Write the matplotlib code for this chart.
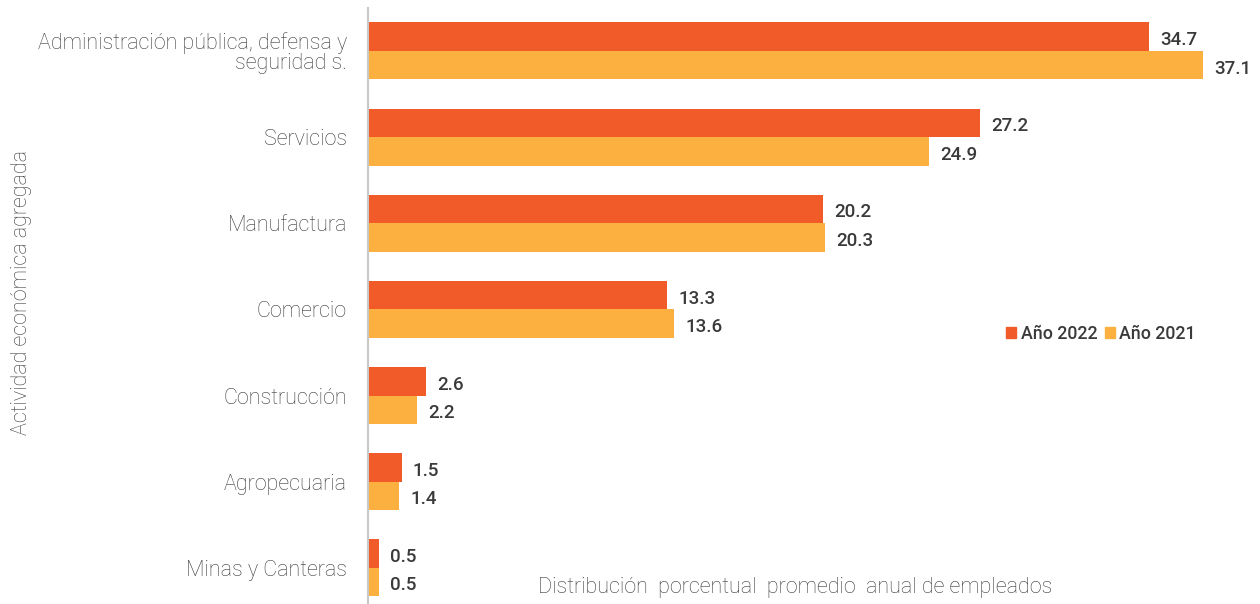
import numpy as np
import matplotlib
matplotlib.use("Agg")
import matplotlib.pyplot as plt
from matplotlib.patches import Patch

# Data
categorias = ["Administración pública, defensa y\nseguridad s.", "Servicios", "Manufactura",
              "Comercio", "Construcción", "Agropecuaria", "Minas y Canteras"]
anio_2022 = [34.7, 27.2, 20.2, 13.3, 2.6, 1.5, 0.5]
anio_2021 = [37.1, 24.9, 20.3, 13.6, 2.2, 1.4, 0.5]
series_nombres = ["Año 2022", "Año 2021"]

color_2022 = "#F15A29"
color_2021 = "#FBB040"
texto_gris = "#3A3A3A"

plt.rcParams['font.family'] = ['Roboto', 'DejaVu Sans']

fig = plt.figure(figsize=(12.6, 6.04), dpi=100)
ax = fig.add_axes([0.292, 0.0, 0.706, 0.987])

y = np.arange(len(categorias))
h = 0.33
b1 = ax.barh(y - h / 2, anio_2022, height=h, color=color_2022)
b2 = ax.barh(y + h / 2, anio_2021, height=h, color=color_2021)

# value labels
for barras in (b1, b2):
    for rect in barras:
        v = rect.get_width()
        ax.text(v + 0.5, rect.get_y() + rect.get_height() / 2 + 0.04, f"{v:.1f}",
                va="center", ha="left", fontsize=13.5, color=texto_gris,
                fontweight="medium")

ax.set_xlim(0, 39.5)
ax.set_ylim(6.42, -0.5)
ax.set_yticks(y)
ax.set_yticklabels(categorias, fontsize=15.5, color=texto_gris, fontweight="light",
                   linespacing=0.95)
ax.tick_params(axis="y", length=0, pad=15)
ax.set_xticks([])

for s in ["top", "right", "bottom"]:
    ax.spines[s].set_visible(False)
ax.spines["left"].set_color("#C8C8C8")
ax.spines["left"].set_linewidth(1.5)

fig.text(0.017, 0.516, "Actividad económica agregada", rotation=90, va="center", ha="center",
         fontsize=15.5, color=texto_gris, fontweight="light")
fig.text(0.631, 0.028, "Distribución  porcentual  promedio  anual de empleados", ha="center",
         va="center", fontsize=15.5, color=texto_gris, fontweight="light")

handles = [Patch(color=color_2022), Patch(color=color_2021)]
fig.legend(handles, series_nombres, loc="center left", bbox_to_anchor=(0.786, 0.447),
           frameon=False, ncol=2, handlelength=0.55, handleheight=0.55, handletextpad=0.25,
           columnspacing=0.45, prop={"size": 12.8, "weight": "medium"}, labelcolor=texto_gris)

fig.savefig("out.png", dpi=100)
